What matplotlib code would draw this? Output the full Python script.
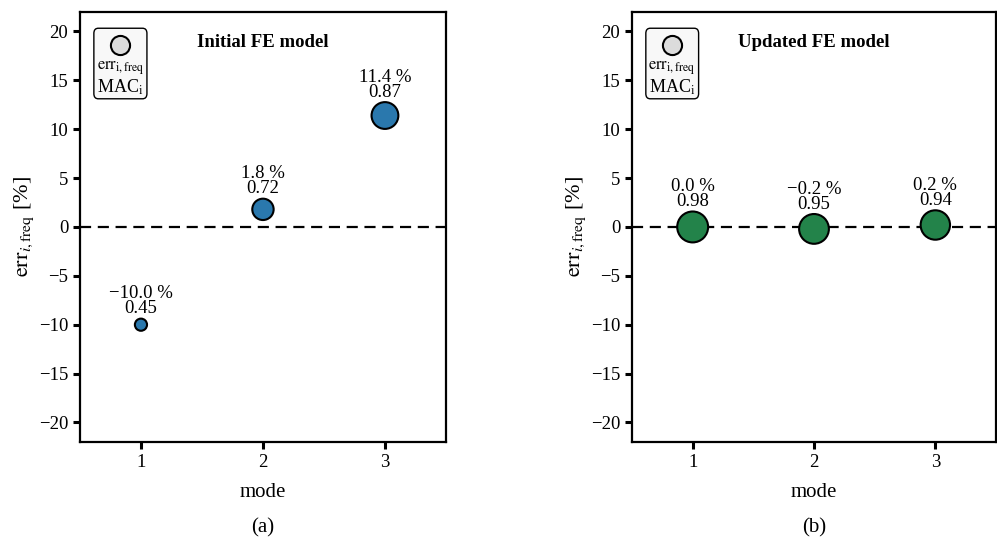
import matplotlib.pyplot as plt
from matplotlib.patches import FancyBboxPatch

plt.rcParams['font.family'] = ['Liberation Serif', 'DejaVu Serif']
plt.rcParams['mathtext.fontset'] = 'stix'

# Données
modes = [1, 2, 3]
err_initial = [-10.0, 1.8, 11.4]
mac_initial = [0.45, 0.72, 0.87]
err_updated = [0.0, -0.2, 0.2]
mac_updated = [0.98, 0.95, 0.94]
titles = ['Initial FE model', 'Updated FE model']
panel_labels = ['(a)', '(b)']
colors = ['#2a78ad', '#23834a']

fig = plt.figure(figsize=(9.97, 5.41), dpi=100)
ax1 = fig.add_axes([0.0802, 0.183, 0.3671, 0.795])
ax2 = fig.add_axes([0.6339, 0.183, 0.3651, 0.795])

for ax, err, mac, title, lab, col in zip([ax1, ax2], [err_initial, err_updated],
                                         [mac_initial, mac_updated], titles,
                                         panel_labels, colors):
    ax.axhline(0, color='black', linestyle=(0, (5, 3)), linewidth=1.6, zorder=1)
    sizes = [520 * m ** 2.4 for m in mac]
    ax.scatter(modes, err, s=sizes, color=col, edgecolor='black', linewidth=1.5, zorder=3)

    # Annotations au-dessus des points
    for x, e, m, s in zip(modes, err, mac, sizes):
        r = (s ** 0.5) / 2
        txt = f"{e:.1f} %\n{m:.2f}".replace('-', '\u2212')
        ax.annotate(txt, (x, e), xytext=(0, r + 1), textcoords='offset points',
                    ha='center', va='bottom', fontsize=13.5, linespacing=0.85)

    ax.set_xlim(0.5, 3.5)
    ax.set_ylim(-22, 22)
    ax.set_xticks(modes)
    ax.set_yticks(range(-20, 21, 5))
    ax.tick_params(labelsize=13.5, width=2.2, length=5)
    for sp in ax.spines.values():
        sp.set_linewidth(1.6)
    ax.set_xlabel('mode', fontsize=15, labelpad=9)
    ax.set_ylabel(r'$\mathrm{err}_{i,\mathrm{freq}}$ [%]', fontsize=16, labelpad=2)

    ax.text(0.5, 0.93, title, transform=ax.transAxes, ha='center', va='center',
            fontsize=13.5, fontweight='bold')
    ax.text(0.5, -0.2, lab, transform=ax.transAxes, ha='center', va='center', fontsize=15)

    # Petite légende
    box = FancyBboxPatch((0.038, 0.798), 0.145, 0.164, boxstyle='round,pad=0,rounding_size=0.012',
                         transform=ax.transAxes, facecolor='#f8f8f8', edgecolor='black',
                         linewidth=1, zorder=4)
    ax.add_patch(box)
    ax.scatter([0.11], [0.924], s=190, color='#dcdcdc', edgecolor='black', linewidth=1.5,
               transform=ax.transAxes, zorder=5, clip_on=False)
    ax.text(0.11, 0.868, r'$\mathrm{err}_{\mathrm{i,freq}}$', transform=ax.transAxes,
            ha='center', va='center', fontsize=12, zorder=6)
    ax.text(0.11, 0.825, r'MAC$_\mathrm{i}$', transform=ax.transAxes,
            ha='center', va='center', fontsize=13, zorder=6)

fig.savefig('out.png', dpi=100)
